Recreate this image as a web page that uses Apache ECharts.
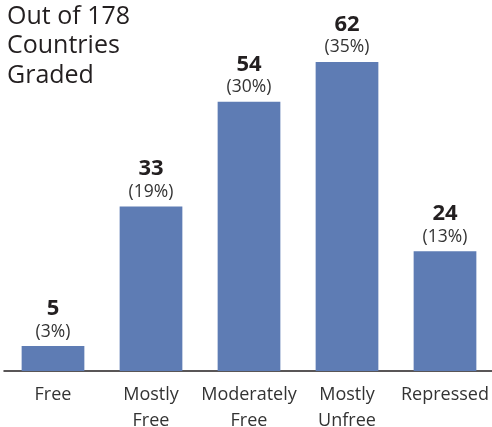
<!DOCTYPE html>
<html>
<head>
<meta charset="utf-8">
<script src="https://cdn.jsdelivr.net/npm/echarts@6/dist/echarts.min.js"></script>
<style>
  html, body { margin: 0; padding: 0; background: #fff; }
  #chart { width: 492px; height: 427px; }
</style>
</head>
<body>
<div id="chart"></div>
<script>
const categories = ['Free', 'Mostly\nFree', 'Moderately\nFree', 'Mostly\nUnfree', 'Repressed'];
const counts = [5, 33, 54, 62, 24];
const shares = ['3%', '19%', '30%', '35%', '13%'];

const FONT = '"Open Sans", Lato, sans-serif';

const chart = echarts.init(document.getElementById('chart'));
chart.setOption({
  backgroundColor: '#fff',
  animation: false,
  title: {
    text: 'Out of 178\nCountries\nGraded',
    left: 7,
    top: 2,
    padding: 0,
    textStyle: { fontFamily: FONT, fontSize: 25, fontWeight: 'normal', color: '#231f20', lineHeight: 29.5 }
  },
  grid: { left: 4, right: -2, top: 22, bottom: 56, outerBoundsMode: 'none' },
  xAxis: {
    type: 'category',
    data: categories,
    axisLine: { lineStyle: { color: '#231f20', width: 1.5 } },
    axisTick: { show: false },
    axisLabel: { fontFamily: FONT, fontSize: 18, color: '#333', lineHeight: 26, margin: 11, interval: 0 }
  },
  yAxis: {
    type: 'value',
    min: 0,
    max: 70,
    show: false
  },
  series: [{
    type: 'bar',
    data: counts,
    barWidth: '64%',
    itemStyle: { color: '#5e7cb4' },
    label: {
      show: true,
      position: 'top',
      distance: 4,
      formatter: p => '{v|' + p.value + '}\n{p|(' + shares[p.dataIndex] + ')}',
      rich: {
        v: { fontFamily: FONT, fontSize: 22, fontWeight: 'bold', color: '#231f20', lineHeight: 25 },
        p: { fontFamily: FONT, fontSize: 17.5, color: '#333', lineHeight: 21 }
      }
    }
  }]
});
</script>
</body>
</html>
